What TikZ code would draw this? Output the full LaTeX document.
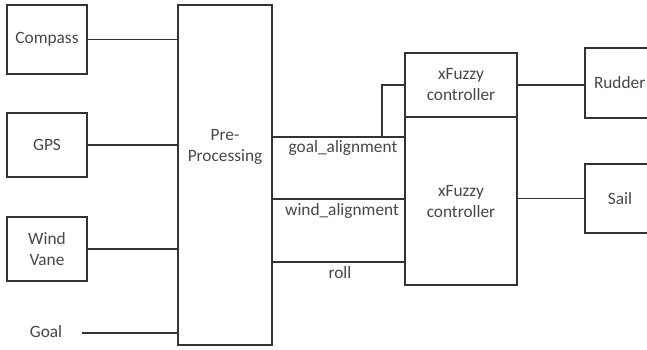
\documentclass[tikz,border=0pt]{standalone}
\usepackage{fontspec}
\setmainfont{Carlito}
\usetikzlibrary{calc}
\begin{document}
\begin{tikzpicture}[x=1pt,y=-1pt,
  line width=1.7pt, draw=black!80,
  every node/.style={font=\fontsize{17.3}{21}\selectfont, text=black!72},
  blk/.style={draw=black!80, line width=1.7pt, inner sep=0pt, align=center},
  lbl/.style={inner sep=0pt, align=center}]
\useasboundingbox (0,0) rectangle (647,350);
\fill[white] (0,0) rectangle (647,350);
% left boxes
\node[blk, minimum width=80pt, minimum height=69pt] (comp) at (47,39.5) {Compass};
\node[blk, minimum width=80pt, minimum height=64pt] (gps) at (47,145) {GPS};
\node[blk, minimum width=80pt, minimum height=64pt] (wind) at (47,249) {Wind\\Vane};
\node[lbl] (goal) at (46,332) {Goal};
\coordinate (goalstart) at (82,333);
% pre-processing
\node[blk, minimum width=94pt, minimum height=340pt] (pre) at (225,175) {};
\node[lbl] (pretext) at (225,147) {Pre-\\Processing};
% controllers
\node[blk, minimum width=112pt, minimum height=64pt] (up) at (461,85) {xFuzzy\\controller};
\node[blk, minimum width=112pt, minimum height=168pt] (low) at (461,201) {};
\node[lbl] (lowtext) at (461,202) {xFuzzy\\controller};
% outputs
\node[blk, minimum width=70pt, minimum height=70pt, text width=56pt, align=left] (rud) at (620,83) {\hspace*{2pt}Rudder};
\node[blk, minimum width=70pt, minimum height=69pt] (sail) at (620,198.5) {Sail};
% labels
\node[lbl] (ga) at (343,148) {goal\_alignment};
\node[lbl] (wa) at (342,211) {wind\_alignment};
\node[lbl] (rl) at (340,273) {roll};
% connectors
\draw (comp.east) -- (comp.east -| pre.west);
\draw (gps.east) -- (gps.east -| pre.west);
\draw (wind.east) -- (wind.east -| pre.west);
\draw (goalstart) -- (goalstart -| pre.west);
\coordinate (gastart) at (272,137);
\coordinate (step) at (382,137);
\draw (gastart) -- (gastart -| low.west);
\draw (step) -- (step |- up.west) -- (up.west);
\coordinate (wastart) at (272,199);
\draw (wastart) -- (wastart -| low.west);
\coordinate (rlstart) at (272,262);
\draw (rlstart) -- (rlstart -| low.west);
\draw (up.east) -- (up.east -| rud.west);
\draw (low.east |- sail.west) -- (sail.west);
\end{tikzpicture}
\end{document}
